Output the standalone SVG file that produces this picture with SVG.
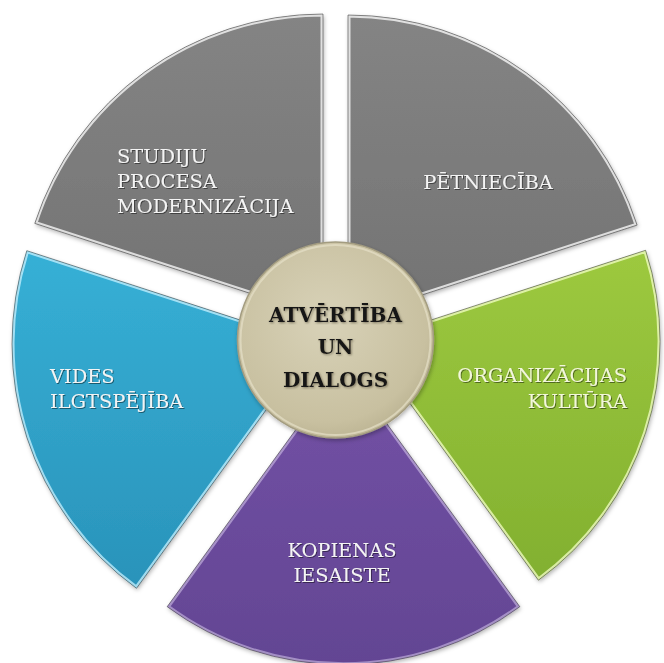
<svg xmlns="http://www.w3.org/2000/svg" width="664" height="663" viewBox="0 0 664 663">
<style>
.seg-text{font-family:"DejaVu Serif","Liberation Serif",serif;font-size:19.4px;fill:#f4f4f4}
.green-text{fill:#f3f7dc}
.center-text{font-family:"DejaVu Serif","Liberation Serif",serif;font-size:20px;font-weight:bold;fill:#141414;text-anchor:middle}
.hl{fill:none;stroke:#ffffff;stroke-opacity:0.75;stroke-width:5}
.edge{fill:none;stroke:#3a3a3a;stroke-opacity:0.55;stroke-width:1}
</style>
<defs>
<linearGradient id="gGray" x1="0" y1="0" x2="0" y2="1">
<stop offset="0" stop-color="#848484"/><stop offset="1" stop-color="#737373"/>
</linearGradient>
<linearGradient id="gGreen" x1="0" y1="0" x2="0" y2="1">
<stop offset="0" stop-color="#9dc93f"/><stop offset="1" stop-color="#82b030"/>
</linearGradient>
<linearGradient id="gPurple" x1="0" y1="0" x2="0" y2="1">
<stop offset="0" stop-color="#7352a6"/><stop offset="1" stop-color="#634593"/>
</linearGradient>
<linearGradient id="gBlue" x1="0" y1="0" x2="0" y2="1">
<stop offset="0" stop-color="#36b0d6"/><stop offset="1" stop-color="#2a93ba"/>
</linearGradient>
<radialGradient id="gCenter" cx="0.45" cy="0.4" r="0.65">
<stop offset="0" stop-color="#d8d2b8"/><stop offset="0.8" stop-color="#c8c0a0"/><stop offset="1" stop-color="#b8b08f"/>
</radialGradient>
<filter id="shadow" x="-10%" y="-10%" width="120%" height="120%">
<feDropShadow dx="1" dy="2" stdDeviation="2" flood-color="#000" flood-opacity="0.3"/>
</filter>
<filter id="txtShadow" x="-5%" y="-20%" width="110%" height="140%">
<feDropShadow dx="1" dy="1" stdDeviation="0.6" flood-color="#000" flood-opacity="0.45"/>
</filter>
<filter id="emboss" x="-5%" y="-20%" width="110%" height="140%">
<feDropShadow dx="1" dy="1" stdDeviation="0.8" flood-color="#6b6550" flood-opacity="0.8"/>
</filter>
<path id="pTL" d="M323,317 L34.8,223.4 A303,303 0 0 1 323,14 Z"/>
<path id="pTR" d="M348,319 L348,15 A304,304 0 0 1 637.1,225.1 Z"/>
<path id="pG" d="M365,341.5 L645.6,250.3 A295,295 0 0 1 538.4,580.2 Z"/>
<path id="pP" d="M343.5,364 L519.8,606.7 A297,297 0 0 1 167.2,606.7 Z"/>
<path id="pB" d="M314,344 L136.5,588.3 A302,302 0 0 1 26.8,250.7 Z"/>
<clipPath id="cTL"><use href="#pTL"/></clipPath>
<clipPath id="cTR"><use href="#pTR"/></clipPath>
<clipPath id="cG"><use href="#pG"/></clipPath>
<clipPath id="cP"><use href="#pP"/></clipPath>
<clipPath id="cB"><use href="#pB"/></clipPath>
</defs>
<rect width="664" height="663" fill="#ffffff"/>

<g id="studiju">
<use href="#pTL" fill="url(#gGray)" filter="url(#shadow)"/>
<use href="#pTL" class="hl" clip-path="url(#cTL)"/>
<use href="#pTL" class="edge"/>
<g class="seg-text" filter="url(#txtShadow)">
<text x="117" y="163">STUDIJU</text>
<text x="117" y="188">PROCESA</text>
<text x="117" y="213">MODERNIZĀCIJA</text>
</g>
</g>

<g id="petnieciba">
<use href="#pTR" fill="url(#gGray)" filter="url(#shadow)"/>
<use href="#pTR" class="hl" clip-path="url(#cTR)"/>
<use href="#pTR" class="edge"/>
<text class="seg-text" x="488" y="189" text-anchor="middle" filter="url(#txtShadow)">PĒTNIECĪBA</text>
</g>

<g id="organizacijas">
<use href="#pG" fill="url(#gGreen)" filter="url(#shadow)"/>
<use href="#pG" class="hl" clip-path="url(#cG)" style="stroke:#f4ffc8"/>
<use href="#pG" class="edge"/>
<g class="seg-text green-text" text-anchor="end" filter="url(#txtShadow)">
<text x="627" y="382">ORGANIZĀCIJAS</text>
<text x="627" y="408">KULTŪRA</text>
</g>
</g>

<g id="kopienas">
<use href="#pP" fill="url(#gPurple)" filter="url(#shadow)"/>
<use href="#pP" class="hl" clip-path="url(#cP)" style="stroke:#e4d8f6;stroke-opacity:0.5"/>
<use href="#pP" class="edge"/>
<g class="seg-text" text-anchor="middle" filter="url(#txtShadow)">
<text x="342" y="557">KOPIENAS</text>
<text x="342" y="582">IESAISTE</text>
</g>
</g>

<g id="vides">
<use href="#pB" fill="url(#gBlue)" filter="url(#shadow)"/>
<use href="#pB" class="hl" clip-path="url(#cB)" style="stroke:#c8f2ff"/>
<use href="#pB" class="edge"/>
<g class="seg-text" filter="url(#txtShadow)">
<text x="50" y="383">VIDES</text>
<text x="50" y="408">ILGTSPĒJĪBA</text>
</g>
</g>

<g id="center">
<circle cx="335.5" cy="340" r="98" fill="url(#gCenter)" stroke="#a39c80" stroke-width="1.5" filter="url(#shadow)"/>
<circle cx="335.5" cy="340" r="95" fill="none" stroke="#e6e0c8" stroke-opacity="0.7" stroke-width="2"/>
<g class="center-text" filter="url(#emboss)">
<text x="335.5" y="322">ATVĒRTĪBA</text>
<text x="335.5" y="354">UN</text>
<text x="335.5" y="387">DIALOGS</text>
</g>
</g>
</svg>
